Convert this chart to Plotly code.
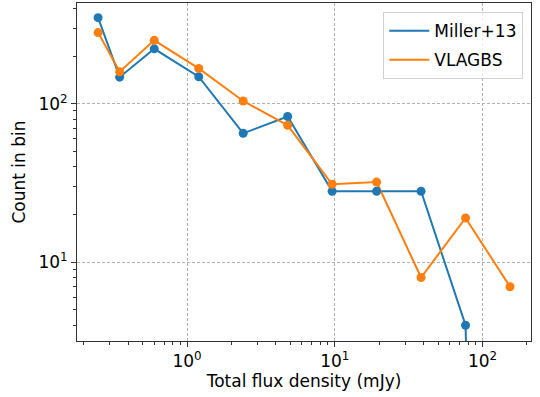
import numpy as np
import plotly.graph_objects as go

flux_mjy = [0.25, 0.35, 0.6, 1.2, 2.4, 4.8, 9.6, 19.2, 38.4, 76.8, 153.6]
miller13 = [349, 147, 222, 148, 65, 83, 28, 28, 28, 4, 0]
vlagbs = [281, 159, 251, 167, 104, 73, 31, 32, 8, 19, 7]

blue = "#1f77b4"
orange = "#ff7f0e"
FS = 17

def clip(vals):
    # mimic matplotlib log-axis clipping of non-positive values (drawn far below the axis)
    return [v if v > 0 else 1e-10 for v in vals]

fig = go.Figure()
for name, vals, col in [("Miller+13", miller13, blue), ("VLAGBS", vlagbs, orange)]:
    fig.add_trace(go.Scatter(x=flux_mjy, y=clip(vals), mode="lines", name=name,
                             legendgroup=name, line=dict(color=col, width=2)))
for name, vals, col in [("Miller+13", miller13, blue), ("VLAGBS", vlagbs, orange)]:
    xs = [x for x, v in zip(flux_mjy, vals) if v > 0]
    ys = [v for v in vals if v > 0]
    fig.add_trace(go.Scatter(x=xs, y=ys, mode="markers", showlegend=False,
                             legendgroup=name, marker=dict(color=col, size=9)))

decades = [0.1, 1, 10, 100, 1000]
minor_vals = [d * m for d in decades for m in range(2, 10)]

axis_common = dict(
    type="log", showline=True, linecolor="#333333", linewidth=1, mirror=True,
    ticks="outside", ticklen=5, tickwidth=1, tickcolor="#333333",
    showgrid=True, gridcolor="#b0b0b0", griddash="3px,2px", gridwidth=1,
    zeroline=False,
    tickfont=dict(family="DejaVu Sans", size=FS, color="black"),
    minor=dict(ticks="outside", ticklen=3, tickwidth=1, tickcolor="#333333",
               tickmode="array", tickvals=minor_vals, showgrid=False),
)

fig.update_xaxes(**axis_common,
                 range=[np.log10(0.18), np.log10(213)],
                 tickmode="array", tickvals=[1, 10, 100],
                 ticktext=["10<sup>0</sup>", "10<sup>1</sup>", "10<sup>2</sup>"],
                 title=dict(text="Total flux density (mJy)", standoff=4,
                            font=dict(family="DejaVu Sans", size=FS, color="black")))
fig.update_yaxes(**axis_common,
                 range=[np.log10(3.18), np.log10(432)],
                 tickmode="array", tickvals=[10, 100],
                 ticktext=["10<sup>1</sup>", "10<sup>2</sup>"],
                 title=dict(text="Count in bin", standoff=8,
                            font=dict(family="DejaVu Sans", size=FS, color="black")))

fig.update_layout(
    width=540, height=397,
    margin=dict(l=77, r=9, t=3, b=56),
    plot_bgcolor="white", paper_bgcolor="white",
    font=dict(family="DejaVu Sans", size=FS, color="black"),
    legend=dict(x=0.983, y=0.973, xanchor="right", yanchor="top",
                bordercolor="#d0d0d0", borderwidth=1, bgcolor="rgba(255,255,255,0.8)",
                tracegroupgap=4, itemwidth=40,
                font=dict(family="DejaVu Sans", size=FS, color="black")),
)

fig.write_html("out.html")
